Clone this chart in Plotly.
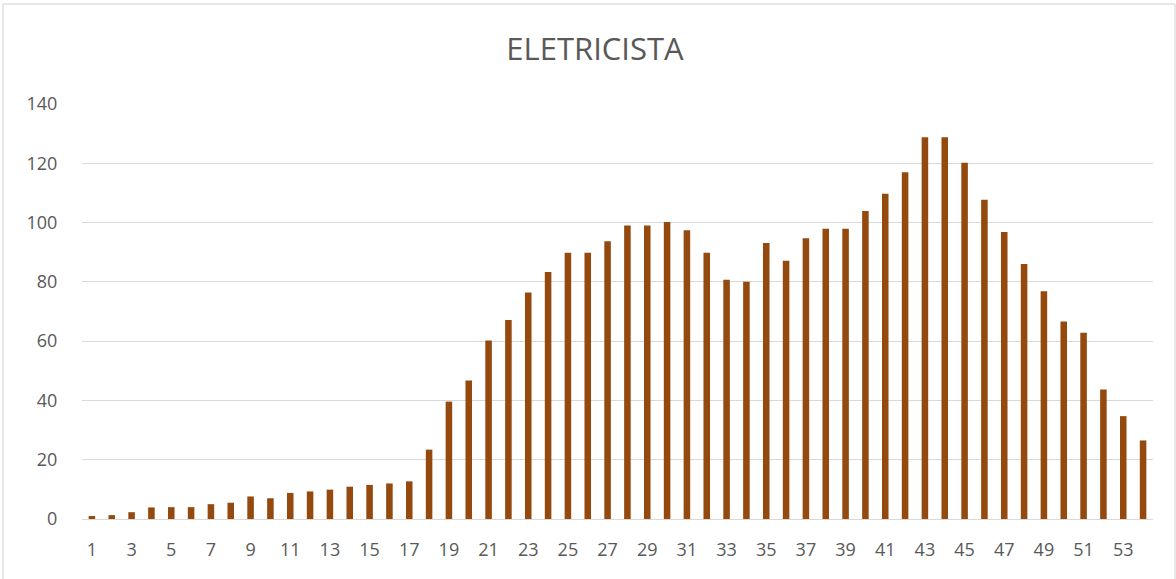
import plotly.graph_objects as go

categories = list(range(1, 55))
values = [1, 1.3, 2.3, 3.9, 4, 4, 5, 5.5, 7.6, 7, 8.8, 9.3, 9.9, 10.9, 11.5, 12, 12.7,
          23.4, 39.6, 46.7, 60.2, 67.1, 76.4, 83.3, 89.8, 89.8, 93.7, 99, 99, 100.2,
          97.4, 89.8, 80.7, 80, 93.1, 87.1, 94.7, 97.9, 97.9, 103.9, 109.7, 117,
          128.8, 128.8, 120.2, 107.7, 96.8, 86, 76.8, 66.6, 62.8, 43.7, 34.7, 26.5]
x_ticks = list(range(1, 54, 2))
y_ticks = list(range(0, 141, 20))
title_text = "ELETRICISTA"

W, H = 1176, 579
L, R, T, B = 82, 1153, 104, 519

fig = go.Figure(go.Bar(
    x=categories, y=values,
    marker=dict(color="#944A0E", line=dict(width=0)),
    width=0.33,
))

font_family = "Open Sans, Noto Sans, sans-serif"
gray = "#595959"

fig.update_layout(
    width=W, height=H,
    margin=dict(l=L, r=W - R, t=T, b=H - B, pad=0),
    paper_bgcolor="white", plot_bgcolor="white",
    showlegend=False,
    font=dict(family=font_family, color=gray),
    title=dict(text=title_text, x=595 / W, xanchor="center", xref="container",
               y=1 - 49 / H, yanchor="middle", yref="container",
               font=dict(size=31, color=gray, family=font_family)),
    xaxis=dict(range=[0.5, 54.5], tickvals=x_ticks, ticktext=[str(v) for v in x_ticks],
               showgrid=False, zeroline=False, showline=False,
               ticks="outside", ticklen=14, tickcolor="rgba(0,0,0,0)",
               tickfont=dict(size=18, color=gray)),
    yaxis=dict(range=[0, 140], tickvals=y_ticks, showgrid=True, gridcolor="#d9d9d9",
               gridwidth=1, zeroline=True, zerolinecolor="#d9d9d9", zerolinewidth=1,
               showline=False, ticks="outside", ticklen=20, tickcolor="rgba(0,0,0,0)",
               tickfont=dict(size=18, color=gray)),
)

# chart outer border (Excel chart area frame)
pw, ph = R - L, B - T
fig.add_shape(type="rect", xref="paper", yref="paper",
              x0=(3 - L) / pw, x1=(1175 - L) / pw,
              y0=(B - 600) / ph, y1=(B - 4) / ph,
              line=dict(color="#d0d0d0", width=1), fillcolor="rgba(0,0,0,0)", layer="below")

fig.write_html("out.html",
               config={"displayModeBar": False},
               post_script="document.body.style.margin='0';document.body.style.overflow='hidden';")
